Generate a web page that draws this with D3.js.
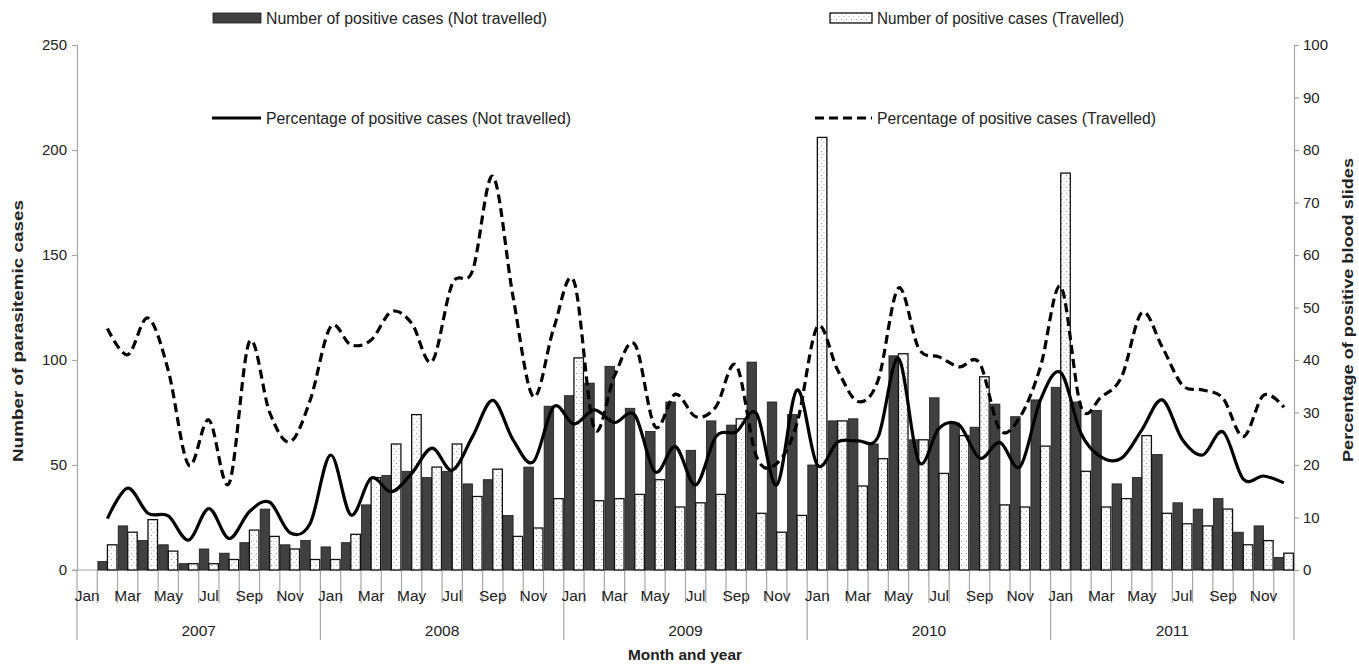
<!DOCTYPE html>
<html>
<head>
<meta charset="utf-8">
<script src="https://cdn.jsdelivr.net/npm/d3@7"></script>
<style>
  body { margin: 0; background: #fff; }
  svg { display: block; }
  text { font-family: "Liberation Sans Narrow", "Arial Narrow", "Liberation Sans", Arial, sans-serif; fill: #222; }
</style>
</head>
<body>
<svg id="chart" width="1359" height="664"></svg>
<script>
// ---------- data ----------
const monthNames = ["Jan","Feb","Mar","Apr","May","Jun","Jul","Aug","Sep","Oct","Nov","Dec"];
const years = ["2007","2008","2009","2010","2011"];
const leftTicks = [0, 50, 100, 150, 200, 250];
const rightTicks = [0, 10, 20, 30, 40, 50, 60, 70, 80, 90, 100];

// Number of positive cases (Not travelled)
const casesNotTravelled = [
  null, 4, 21, 14, 12, 3, 10, 8, 13, 29, 12, 14,
  11, 13, 31, 45, 47, 44, 47, 41, 43, 26, 49, 78,
  83, 89, 97, 77, 66, 80, 57, 71, 69, 99, 80, 74,
  50, 71, 72, 60, 102, 62, 82, 70, 68, 79, 73, 81,
  87, 80, 76, 41, 44, 55, 32, 29, 34, 18, 21, 6
];
// Number of positive cases (Travelled)
const casesTravelled = [
  null, 12, 18, 24, 9, 3, 3, 5, 19, 16, 10, 5,
  5, 17, 44, 60, 74, 49, 60, 35, 48, 16, 20, 34,
  101, 33, 34, 36, 43, 30, 32, 36, 72, 27, 18, 26,
  206, 71, 40, 53, 103, 62, 46, 64, 92, 31, 30, 59,
  189, 47, 30, 34, 64, 27, 22, 21, 29, 12, 14, 8
];
// Percentage of positive cases (Not travelled)
const pctNotTravelled = [
  null, 9.8, 15.6, 10.8, 10.3, 5.7, 11.7, 6.0, 11.1, 12.9, 7.1, 8.9,
  21.9, 10.5, 17.5, 14.9, 18.4, 23.2, 19.0, 25.4, 32.3, 24.8, 20.6, 31.1,
  27.8, 30.5, 28.1, 29.5, 18.7, 23.5, 16.2, 25.4, 26.3, 29.8, 16.2, 34.3,
  20.0, 24.4, 24.6, 25.4, 40.3, 20.6, 27.0, 27.6, 21.3, 24.3, 19.7, 32.4,
  37.6, 26.0, 21.5, 21.3, 26.7, 32.4, 24.8, 21.9, 26.3, 17.3, 17.9, 16.6
];
// Percentage of positive cases (Travelled)
const pctTravelled = [
  null, 46, 41, 48, 38, 20, 28.6, 16.5, 43.5, 30, 24.4, 32.4,
  46.3, 42.9, 43.8, 49.2, 47, 39.7, 54.5, 57, 75, 52, 33, 46,
  55, 27, 37, 43, 27.3, 33.5, 29.2, 31.1, 39, 21.6, 20.3, 28,
  46.3, 38.1, 32.1, 36.2, 53.7, 42.2, 40.6, 38.7, 39.4, 26.7, 29.2, 38.7,
  54, 31.1, 33, 36.8, 49, 42.5, 35.2, 34.3, 32.7, 25.4, 33.3, 31
];

// ---------- layout ----------
const svg = d3.select("#chart");
const L = 77, R = 1294, T = 45, B = 570;
const idx = d3.range(casesNotTravelled.length);
const months = idx.map(i => monthNames[i % 12]);

const x = d3.scaleBand().domain(idx).range([L, R]).paddingInner(0.06).paddingOuter(0.03);
const xStep = (R - L) / idx.length;
const xCenter = i => L + (i + 0.5) * xStep;
const xSub = d3.scaleBand().domain(["n", "t"]).range([0, x.bandwidth()]);
const yL = d3.scaleLinear().domain([0, 250]).range([B, T]);
const yR = d3.scaleLinear().domain([0, 100]).range([B, T]);
const axisColor = "#a6a6a6";

// dot pattern
const defs = svg.append("defs");
const pat = defs.append("pattern").attr("id", "dots").attr("patternUnits", "userSpaceOnUse")
  .attr("width", 5).attr("height", 6);
pat.append("rect").attr("width", 5).attr("height", 6).attr("fill", "#fff");
pat.append("rect").attr("x", 1).attr("y", 1).attr("width", 1).attr("height", 1).attr("fill", "#9a9a9a");
pat.append("rect").attr("x", 3.5).attr("y", 4).attr("width", 1).attr("height", 1).attr("fill", "#b5b5b5");

// ---------- axes ----------
const gL = svg.append("g").attr("transform", `translate(${L},0)`)
  .call(d3.axisLeft(yL).tickValues(leftTicks).tickSize(5).tickPadding(5));
const gR = svg.append("g").attr("transform", `translate(${R},0)`)
  .call(d3.axisRight(yR).tickValues(rightTicks).tickSize(5).tickPadding(4));
[gL, gR].forEach(g => {
  g.select(".domain").attr("stroke", axisColor).attr("stroke-width", 1.2);
  g.selectAll(".tick line").attr("stroke", axisColor).attr("stroke-width", 1.2);
  g.selectAll(".tick text").style("font-size", "15px").attr("fill", "#222")
    .style("font-family", '"Liberation Sans Narrow", "Arial Narrow", "Liberation Sans", sans-serif');
});

// bottom axis: baseline
svg.append("line").attr("x1", L - 5).attr("x2", R).attr("y1", B).attr("y2", B)
  .attr("stroke", axisColor).attr("stroke-width", 1.2);
// month tick lines at each category boundary
const boundaries = d3.range(1, idx.length);
svg.append("g").selectAll("line").data(boundaries).join("line")
  .attr("x1", d => L + d * xStep).attr("x2", d => L + d * xStep)
  .attr("y1", B).attr("y2", d => d % 12 === 0 ? 640 : 603)
  .attr("stroke", axisColor).attr("stroke-width", 1.2);
// outer year dividers
svg.append("line").attr("x1", L).attr("x2", L).attr("y1", B).attr("y2", 640).attr("stroke", axisColor).attr("stroke-width", 1.2);
svg.append("line").attr("x1", R).attr("x2", R).attr("y1", B).attr("y2", 640).attr("stroke", axisColor).attr("stroke-width", 1.2);

// month labels (every other month)
svg.append("g").selectAll("text").data(idx.filter(i => i % 2 === 0)).join("text")
  .attr("x", i => xCenter(i)).attr("y", 601).attr("text-anchor", "middle")
  .style("font-size", "15.5px").text(i => months[i]);
// year labels
svg.append("g").selectAll("text").data(years).join("text")
  .attr("x", (d, k) => L + (k * 12 + 6) * xStep).attr("y", 636).attr("text-anchor", "middle")
  .style("font-size", "15.5px").text(d => d);

// axis titles
svg.append("text").attr("transform", "translate(23,331) rotate(-90)").attr("text-anchor", "middle")
  .attr("textLength", 262).attr("lengthAdjust", "spacingAndGlyphs")
  .style("font-size", "15px").style("font-weight", "bold").text("Number of parasitemic cases");
svg.append("text").attr("transform", "translate(1353,310) rotate(-90)").attr("text-anchor", "middle")
  .attr("textLength", 304).attr("lengthAdjust", "spacingAndGlyphs")
  .style("font-size", "15px").style("font-weight", "bold").text("Percentage of positive blood slides");
svg.append("text").attr("x", 685).attr("y", 660).attr("text-anchor", "middle")
  .attr("textLength", 114).attr("lengthAdjust", "spacingAndGlyphs")
  .style("font-size", "15px").style("font-weight", "bold").text("Month and year");

// ---------- bars ----------
const barG = svg.append("g");
barG.selectAll("rect.n").data(idx.filter(i => casesNotTravelled[i] != null)).join("rect")
  .attr("class", "n")
  .attr("x", i => x(i) + xSub("n")).attr("width", xSub.bandwidth())
  .attr("y", i => yL(casesNotTravelled[i])).attr("height", i => B - yL(casesNotTravelled[i]))
  .attr("fill", "#404040").attr("stroke", "#1a1a1a").attr("stroke-width", 0.8);
barG.selectAll("rect.t").data(idx.filter(i => casesTravelled[i] != null)).join("rect")
  .attr("class", "t")
  .attr("x", i => x(i) + xSub("t")).attr("width", xSub.bandwidth())
  .attr("y", i => yL(casesTravelled[i])).attr("height", i => B - yL(casesTravelled[i]))
  .attr("fill", "url(#dots)").attr("stroke", "#111").attr("stroke-width", 1.3);

// ---------- lines ----------
const mkLine = arr => d3.line()
  .defined(i => arr[i] != null)
  .x(i => xCenter(i)).y(i => yR(arr[i]))
  .curve(d3.curveCatmullRom.alpha(0));
svg.append("path").datum(idx).attr("d", mkLine(pctNotTravelled))
  .attr("fill", "none").attr("stroke", "#000").attr("stroke-width", 3.2).attr("stroke-linejoin", "round");
svg.append("path").datum(idx).attr("d", mkLine(pctTravelled))
  .attr("fill", "none").attr("stroke", "#000").attr("stroke-width", 3.2).attr("stroke-dasharray", "9,5");

// ---------- legend ----------
const lg = svg.append("g");
lg.append("rect").attr("x", 213).attr("y", 13).attr("width", 48).attr("height", 10)
  .attr("fill", "#404040").attr("stroke", "#1a1a1a").attr("stroke-width", 0.8);
lg.append("text").attr("x", 266).attr("y", 24).attr("textLength", 281).attr("lengthAdjust", "spacingAndGlyphs")
  .style("font-size", "16px").text("Number of positive cases (Not travelled)");
lg.append("rect").attr("x", 830).attr("y", 13).attr("width", 42).attr("height", 10)
  .attr("fill", "url(#dots)").attr("stroke", "#111").attr("stroke-width", 1.3);
lg.append("text").attr("x", 877).attr("y", 24).attr("textLength", 247).attr("lengthAdjust", "spacingAndGlyphs")
  .style("font-size", "16px").text("Number of positive cases (Travelled)");
lg.append("line").attr("x1", 212).attr("x2", 261).attr("y1", 118).attr("y2", 118)
  .attr("stroke", "#000").attr("stroke-width", 3.2);
lg.append("text").attr("x", 266).attr("y", 124).attr("textLength", 305).attr("lengthAdjust", "spacingAndGlyphs")
  .style("font-size", "16px").text("Percentage of positive cases (Not travelled)");
lg.append("line").attr("x1", 815).attr("x2", 872).attr("y1", 118).attr("y2", 118)
  .attr("stroke", "#000").attr("stroke-width", 3.2).attr("stroke-dasharray", "9,5");
lg.append("text").attr("x", 877).attr("y", 124).attr("textLength", 279).attr("lengthAdjust", "spacingAndGlyphs")
  .style("font-size", "16px").text("Percentage of positive cases (Travelled)");
</script>
</body>
</html>
